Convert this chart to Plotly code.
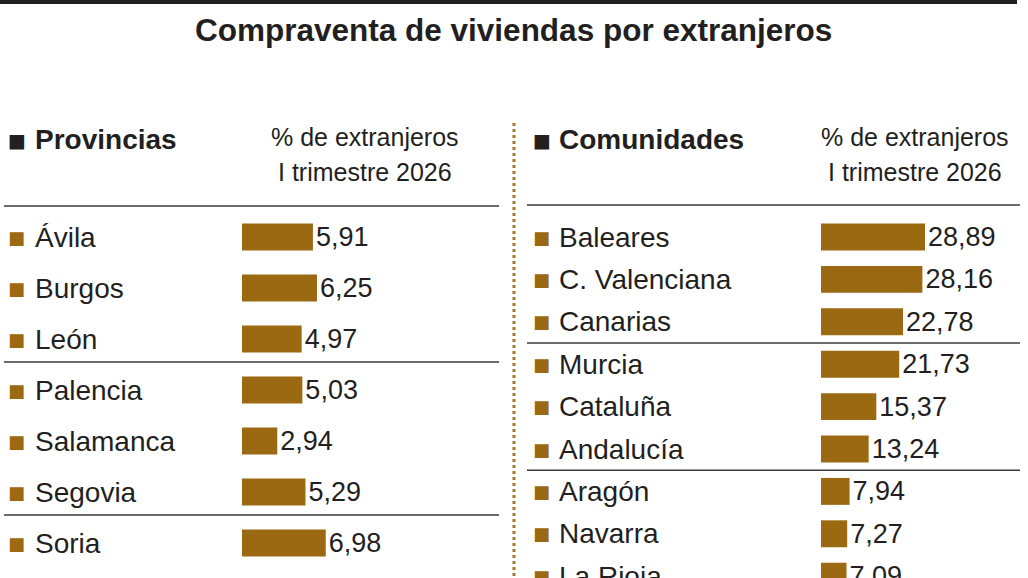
import plotly.graph_objects as go

# Datos
provincias = ["Ávila", "Burgos", "León", "Palencia", "Salamanca", "Segovia", "Soria"]
pct_provincias = [5.91, 6.25, 4.97, 5.03, 2.94, 5.29, 6.98]

comunidades = ["Baleares", "C. Valenciana", "Canarias", "Murcia", "Cataluña",
               "Andalucía", "Aragón", "Navarra", "La Rioja"]
pct_comunidades = [28.89, 28.16, 22.78, 21.73, 15.37, 13.24, 7.94, 7.27, 7.09]

# separadores despues de estos indices
sep_provincias = [2, 5]
sep_comunidades = [2, 5]

title = "Compraventa de viviendas por extranjeros"
header_left = "Provincias"
header_right = "Comunidades"
col_header = ["% de extranjeros", "I trimestre 2026"]

W, H = 1028, 578
BAR = "#9a6912"
INK = "#231f20"
FONT = "Liberation Sans, Arial, sans-serif"


def px_x(p):
    return p / W


def px_y(p):
    return 1 - p / H


fig = go.Figure()

fig.add_trace(go.Bar(
    x=pct_provincias, y=provincias, orientation="h",
    marker=dict(color=BAR, line=dict(width=0)), width=0.53,
    texttemplate="%{x:.2f}", textposition="outside", constraintext="none",
    textfont=dict(family=FONT, size=27, color=INK),
    xaxis="x", yaxis="y", hoverinfo="skip",
))
fig.add_trace(go.Bar(
    x=pct_comunidades, y=comunidades, orientation="h",
    marker=dict(color=BAR, line=dict(width=0)), width=0.635,
    texttemplate="%{x:.2f}", textposition="outside", constraintext="none",
    textfont=dict(family=FONT, size=27, color=INK),
    xaxis="x2", yaxis="y2", hoverinfo="skip",
))

ann = []
shapes = []

# titulo
ann.append(dict(text="<b>" + title + "</b>", x=px_x(513), y=px_y(30), xref="paper", yref="paper",
                showarrow=False, font=dict(family=FONT, size=31.5, color=INK),
                xanchor="center", yanchor="middle"))

# cabeceras de panel
for sq_x, txt_x, txt, hx in [(10, 36, header_left, 365), (535, 560, header_right, 915)]:
    ann.append(dict(text="■", x=px_x(sq_x - 4), y=px_y(140), xref="paper", yref="paper",
                    showarrow=False, font=dict(family="DejaVu Sans", size=19, color=INK),
                    xanchor="left", yanchor="middle"))
    ann.append(dict(text="<b>" + txt + "</b>", x=px_x(txt_x - 3), y=px_y(139), xref="paper", yref="paper",
                    showarrow=False, font=dict(family=FONT, size=28, color=INK),
                    xanchor="left", yanchor="middle"))
    for line, yy in zip(col_header, [137, 172]):
        ann.append(dict(text=line, x=px_x(hx), y=px_y(yy), xref="paper", yref="paper",
                        showarrow=False, font=dict(family=FONT, size=25, color=INK),
                        xanchor="center", yanchor="middle"))

# nombres de filas
for names, yref, sq_x, txt_x in [(provincias, "y", 10, 36), (comunidades, "y2", 535, 560)]:
    for n in names:
        ann.append(dict(text="■", x=px_x(sq_x - 4), y=n, xref="paper", yref=yref,
                        showarrow=False, font=dict(family="DejaVu Sans", size=18, color=BAR),
                        xanchor="left", yanchor="middle"))
        ann.append(dict(text=n, x=px_x(txt_x - 3), y=n, xref="paper", yref=yref,
                        showarrow=False, font=dict(family=FONT, size=28, color=INK),
                        xanchor="left", yanchor="middle"))

# linea superior
shapes.append(dict(type="line", xref="paper", yref="paper", x0=0, x1=px_x(1017),
                   y0=px_y(2), y1=px_y(2), line=dict(color=INK, width=4)))
# lineas de cabecera
shapes.append(dict(type="line", xref="paper", yref="paper", x0=px_x(4), x1=px_x(499),
                   y0=px_y(206), y1=px_y(206), line=dict(color="#3a3a3a", width=1.5)))
shapes.append(dict(type="line", xref="paper", yref="paper", x0=px_x(527), x1=px_x(1020),
                   y0=px_y(205), y1=px_y(205), line=dict(color="#3a3a3a", width=1.5)))
# separadores de grupo
for i in sep_provincias:
    shapes.append(dict(type="line", xref="paper", yref="y", x0=px_x(4), x1=px_x(499),
                       y0=i + 0.45, y1=i + 0.45, line=dict(color="#3a3a3a", width=1.5)))
for i in sep_comunidades:
    shapes.append(dict(type="line", xref="paper", yref="y2", x0=px_x(527), x1=px_x(1020),
                       y0=i + 0.5, y1=i + 0.5, line=dict(color="#3a3a3a", width=1.5)))
# linea punteada vertical
shapes.append(dict(type="line", xref="paper", yref="paper", x0=px_x(514), x1=px_x(514),
                   y0=px_y(123), y1=0, line=dict(color="#a8772a", width=3, dash="dot")))

fig.update_layout(
    width=W, height=H,
    margin=dict(l=0, r=0, t=0, b=0),
    paper_bgcolor="white", plot_bgcolor="white",
    showlegend=False,
    separators=", ",
    xaxis=dict(domain=[px_x(242), px_x(500)], range=[0, 258 / 12.0], visible=False, fixedrange=True),
    yaxis=dict(domain=[0, 1], range=[578 / 51 - 237 / 51, -237 / 51], visible=False,
               type="category", categoryorder="array", categoryarray=provincias),
    xaxis2=dict(domain=[px_x(821), 1], range=[0, 207 / 3.6], visible=False),
    yaxis2=dict(domain=[0, 1], range=[578 / 42.4 - 237 / 42.4, -237 / 42.4], visible=False,
                type="category", categoryorder="array", categoryarray=comunidades,
                anchor="x2"),
    annotations=ann,
    shapes=shapes,
)

fig.write_html("out.html", config={"displayModeBar": False},
               post_script="document.body.style.margin='0';")
